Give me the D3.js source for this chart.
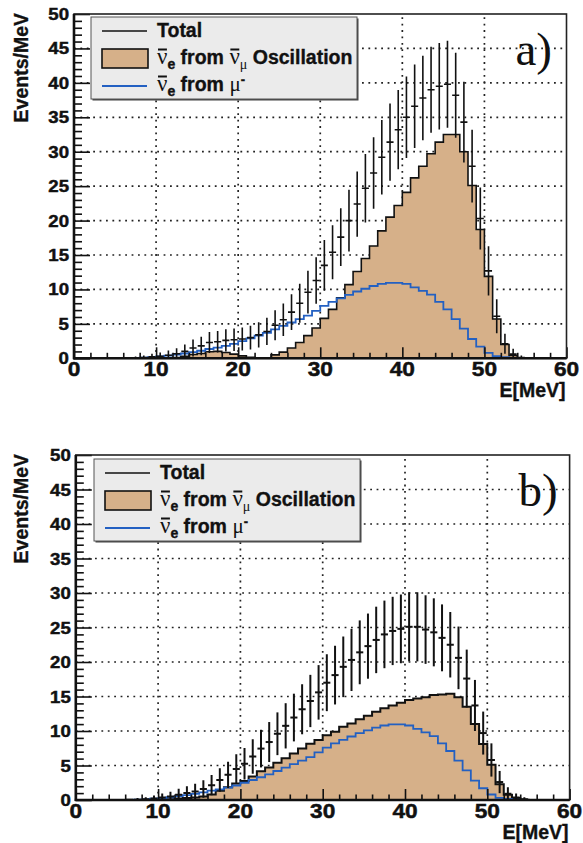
<!DOCTYPE html>
<html><head><meta charset="utf-8">
<script src="https://cdn.jsdelivr.net/npm/d3@7"></script>
<style>body{margin:0;background:#fff}svg{display:block}</style>
</head><body>
<svg id="c" width="583" height="843"></svg>
<script>
// ---------- data (1 MeV bins, 0..60 MeV) ----------
const binLow = d3.range(0, 60);          // bin lower edges (MeV)
const bkg = [0,0,0,0,0,0,0.02,0.05,0.1,0.18,
 0.28,0.4,0.55,0.7,0.9,1.1,1.35,1.55,1.8,2.1,
 2.5,2.9,3.3,3.7,4.2,4.7,5.2,5.7,6.2,6.9,
 7.6,8.2,8.7,9.2,9.7,10.1,10.5,10.8,10.95,10.95,
 10.8,10.3,9.8,9.25,8.2,7.1,5.7,4.3,2.8,1.7,
 0.8,0.3,0.15,0.05,0.02,0,0,0,0,0];
const oscA = [0,0,0,0,0,0,0,0,0,0,
 0,0.02,0.1,0.3,0.55,0.7,0.95,1.0,0.85,0.6,
 0.35,0.15,0.05,0.05,0.5,0.9,1.5,2.3,3.3,4.4,
 5.8,7.1,8.8,10.7,12.6,14.5,16.3,18.5,20.5,22.2,
 24.1,26.2,27.9,29.7,31.4,32.5,32.5,30.0,25.1,18.7,
 11.9,5.7,2.0,0.4,0.05,0,0,0,0,0];
const totalA = [0,0,0,0,0,0,0.02,0.05,0.1,0.2,
 0.3,0.45,0.65,1.0,1.5,1.8,2.3,2.4,2.6,2.7,
 2.8,3.0,3.4,3.9,4.8,5.6,6.7,8.0,9.6,11.3,
 13.5,15.4,17.6,20.0,22.4,24.7,26.9,29.2,31.4,33.2,
 35.0,36.6,37.8,39.0,39.5,39.8,38.2,34.3,27.9,20.3,
 12.7,6.1,2.1,0.6,0.1,0,0,0,0,0];
const oscB = [0,0,0,0,0,0,0,0,0,0,
 0.05,0.1,0.2,0.3,0.35,0.5,0.8,1.35,1.85,2.4,
 2.75,3.4,4.15,4.7,5.4,6.05,6.75,7.45,8.15,8.7,
 9.4,9.9,10.6,11.1,11.7,12.2,12.8,13.3,13.7,14.1,
 14.5,14.7,14.9,15.2,15.3,15.4,14.9,13.5,11.0,8.1,
 5.1,2.3,0.75,0.3,0.05,0,0,0,0,0];
const totalB = [0,0,0,0,0,0,0.02,0.05,0.1,0.2,
 0.35,0.5,0.75,1.0,1.25,1.6,2.15,2.9,3.65,4.5,
 5.25,6.3,7.45,8.4,9.6,10.75,11.95,13.15,14.35,15.6,
 17.0,18.1,19.3,20.3,21.4,22.3,23.2,24.0,24.5,24.8,
 25.1,25.1,24.7,24.3,23.5,22.5,20.6,17.6,13.7,9.7,
 5.8,2.6,0.9,0.35,0.1,0,0,0,0,0];
const xTicks = [0,10,20,30,40,50,60];
const xMinor = [2,4,6,8,12,14,16,18,22,24,26,28,32,34,36,38,42,44,46,48,52,54,56,58];
const yTicks = [0,5,10,15,20,25,30,35,40,45,50];
const yMinor = d3.range(0,51).filter(v => v % 5 !== 0);
const xTitle = "E[MeV]", yTitle = "Events/MeV";
const panelLabels = ["a)", "b)"];

// ---------- style / layout ----------
const TAN = "#d6b089", BLUE = "#2360c2", LEGBG = "#ebebeb";
const SANS = "'Liberation Sans', Arial, Helvetica, sans-serif";
const SERIF = "'Liberation Serif', 'Times New Roman', serif";
const svg = d3.select("#c");

const panels = [
  {osc: oscA, total: totalA, label: panelLabels[0], l:74, r:566.5, t:14, b:358.3, lw:1.6, lx:91, ly:17},
  {osc: oscB, total: totalB, label: panelLabels[1], l:75.8, r:569.6, t:455, b:800, lw:2, lx:94, ly:459}
];

function txt(g, x, y, s, o) {
  let tf = `translate(${x},${y})`;
  if (o.rotate) tf += ` rotate(${o.rotate})`;
  if (o.sx) tf += ` scale(${o.sx},1)`;
  const t = g.append("text").attr("x",0).attr("y",0).text(s)
    .attr("font-family", o.family || SANS)
    .attr("font-weight", o.weight || "bold")
    .attr("font-size", o.size)
    .attr("text-anchor", o.anchor || "start")
    .attr("fill", "#111")
    .attr("transform", tf);
  if (o.heavy) t.attr("stroke", "#111").attr("stroke-width", o.heavy);
  return t;
}

panels.forEach(p => {
  const g = svg.append("g");
  const x = d3.scaleLinear().domain([0,60]).range([p.l, p.r]);
  const y = d3.scaleLinear().domain([0,50]).range([p.b, p.t]);
  const clipId = "clip" + p.label[0];
  g.append("clipPath").attr("id", clipId).append("rect")
    .attr("x", p.l).attr("y", p.t).attr("width", p.r - p.l).attr("height", p.b - p.t);

  // grid (dotted)
  const grid = g.append("g").attr("stroke", "#222").attr("stroke-width", 1.7)
    .attr("stroke-dasharray", "1.8,4.6");
  xTicks.filter(v => v > 0 && v < 60).forEach(v =>
    grid.append("line").attr("x1", x(v)).attr("x2", x(v)).attr("y1", p.b).attr("y2", p.t));
  yTicks.filter(v => v > 0 && v < 50).forEach(v =>
    grid.append("line").attr("x1", p.l).attr("x2", p.r).attr("y1", y(v)).attr("y2", y(v)));

  const pts = arr => binLow.map(i => [i, arr[i]]).concat([[60, arr[59]]]);
  const data = g.append("g").attr("clip-path", `url(#${clipId})`);
  // oscillation fill + outline
  data.append("path").datum(pts(p.osc))
    .attr("d", d3.area().curve(d3.curveStepAfter).x(d => x(d[0])).y0(y(0)).y1(d => y(d[1])))
    .attr("fill", TAN);
  data.append("path").datum(pts(p.osc))
    .attr("d", d3.line().curve(d3.curveStepAfter).x(d => x(d[0])).y(d => y(d[1])))
    .attr("fill", "none").attr("stroke", "#111").attr("stroke-width", p.lw);
  // mu- background
  data.append("path").datum(pts(bkg))
    .attr("d", d3.line().curve(d3.curveStepAfter).x(d => x(d[0])).y(d => y(d[1])))
    .attr("fill", "none").attr("stroke", BLUE).attr("stroke-width", 1.8);
  // total with error bars
  const eg = data.append("g").attr("stroke", "#111").attr("stroke-width", p.lw);
  binLow.forEach(i => {
    const v = p.total[i];
    if (!(v > 0)) return;
    const e = Math.sqrt(v);
    const cx = x(i + 0.5);
    eg.append("line").attr("x1", cx).attr("x2", cx)
      .attr("y1", y(Math.max(0, v - e))).attr("y2", y(v + e));
    eg.append("line").attr("x1", x(i + 0.07)).attr("x2", x(i + 0.93))
      .attr("y1", y(v)).attr("y2", y(v));
  });

  // axes ticks (inside)
  const ya = g.append("g").attr("transform", `translate(${p.l},0)`);
  ya.call(d3.axisLeft(y).tickValues(yTicks).tickSizeInner(-16).tickSizeOuter(0).tickFormat(""));
  const ym = g.append("g").attr("transform", `translate(${p.l},0)`);
  ym.call(d3.axisLeft(y).tickValues(yMinor).tickSizeInner(-8).tickSizeOuter(0).tickFormat(""));
  const xa = g.append("g").attr("transform", `translate(0,${p.b})`);
  xa.call(d3.axisBottom(x).tickValues(xTicks).tickSizeInner(-11).tickSizeOuter(0).tickFormat(""));
  const xm = g.append("g").attr("transform", `translate(0,${p.b})`);
  xm.call(d3.axisBottom(x).tickValues(xMinor).tickSizeInner(-5.5).tickSizeOuter(0).tickFormat(""));
  [ya, ym, xa, xm].forEach(a => {
    a.selectAll(".tick line").attr("stroke", "#111").attr("stroke-width", 1.6);
    a.select(".domain").attr("stroke", "none");
  });
  // frame
  g.append("rect").attr("x", p.l).attr("y", p.t).attr("width", p.r - p.l).attr("height", p.b - p.t)
    .attr("fill", "none").attr("stroke", "#222").attr("stroke-width", 1.6);
  g.append("line").attr("x1", p.l).attr("x2", p.l).attr("y1", p.t).attr("y2", p.b + 1)
    .attr("stroke", "#111").attr("stroke-width", 2.6);
  g.append("line").attr("x1", p.l - 1).attr("x2", p.r).attr("y1", p.b).attr("y2", p.b)
    .attr("stroke", "#111").attr("stroke-width", 2.6);

  // tick labels
  yTicks.forEach(v => txt(g, p.l - 5, y(v) + 6, String(v), {size: 16.5, anchor: "end", sx: 1.13, heavy: 0.45}));
  xTicks.forEach(v => txt(g, x(v), p.b + 17.5, String(v), {size: 21, anchor: "middle", sx: 1.08, heavy: 0.5}));
  // titles
  txt(g, p.r - 1, p.b + 39, xTitle, {size: 19.5, anchor: "end", heavy: 0.35});
  txt(g, 27.5, p.t - 1, yTitle, {size: 19.5, anchor: "end", rotate: -90, heavy: 0.35});
  // panel label
  txt(g, p.r - 51, p.t + 51, p.label, {size: 47, family: SERIF, weight: "normal"});

  // legend
  const L = g.append("g");
  const lx = p.lx, ly = p.ly, lw = 266, lh = 82;
  L.append("rect").attr("x", lx + 1.5).attr("y", ly + 1.5).attr("width", lw).attr("height", lh).attr("fill", "#444");
  L.append("rect").attr("x", lx).attr("y", ly).attr("width", lw).attr("height", lh)
    .attr("fill", LEGBG).attr("stroke", "#555").attr("stroke-width", 1);
  L.append("line").attr("x1", lx + 11).attr("x2", lx + 56).attr("y1", ly + 14).attr("y2", ly + 14)
    .attr("stroke", "#111").attr("stroke-width", 1.6);
  L.append("rect").attr("x", lx + 11).attr("y", ly + 32).attr("width", 46).attr("height", 19)
    .attr("fill", TAN).attr("stroke", "#111").attr("stroke-width", 1.6);
  L.append("line").attr("x1", lx + 11).attr("x2", lx + 56).attr("y1", ly + 69).attr("y2", ly + 69)
    .attr("stroke", BLUE).attr("stroke-width", 1.8);

  function runs(x0, base, list) {
    let cx = x0;
    list.forEach(r => {
      const dy = r.sub ? 5 : (r.sup ? -7 : 0);
      const t = txt(L, cx, base + dy, r.t, {size: r.size || 19.5, family: r.serif ? SERIF : SANS,
        weight: r.serif ? "normal" : "bold", heavy: r.serif ? 0 : 0.35});
      t.attr("xml:space", "preserve").style("white-space", "pre");
      const w = t.node().getComputedTextLength();
      if (r.bar) L.append("line").attr("x1", cx + 1).attr("x2", cx + w - 0.5)
        .attr("y1", base - 14.5).attr("y2", base - 14.5).attr("stroke", "#111").attr("stroke-width", 2);
      cx += w + (r.gap || 0);
    });
  }
  const tx = lx + 66;
  runs(tx, ly + 20, [{t: "Total"}]);
  runs(tx, ly + 47, [{t: "ν", serif: true, size: 23, bar: true}, {t: "e", sub: true, size: 14},
    {t: " from "}, {t: "ν", serif: true, size: 23, bar: true}, {t: "μ", sub: true, serif: true, size: 14},
    {t: " Oscillation"}]);
  runs(tx, ly + 74, [{t: "ν", serif: true, size: 23, bar: true}, {t: "e", sub: true, size: 14},
    {t: " from "}, {t: "μ", serif: true, size: 21}, {t: "-", sup: true, size: 13}]);
});
</script>
</body></html>
